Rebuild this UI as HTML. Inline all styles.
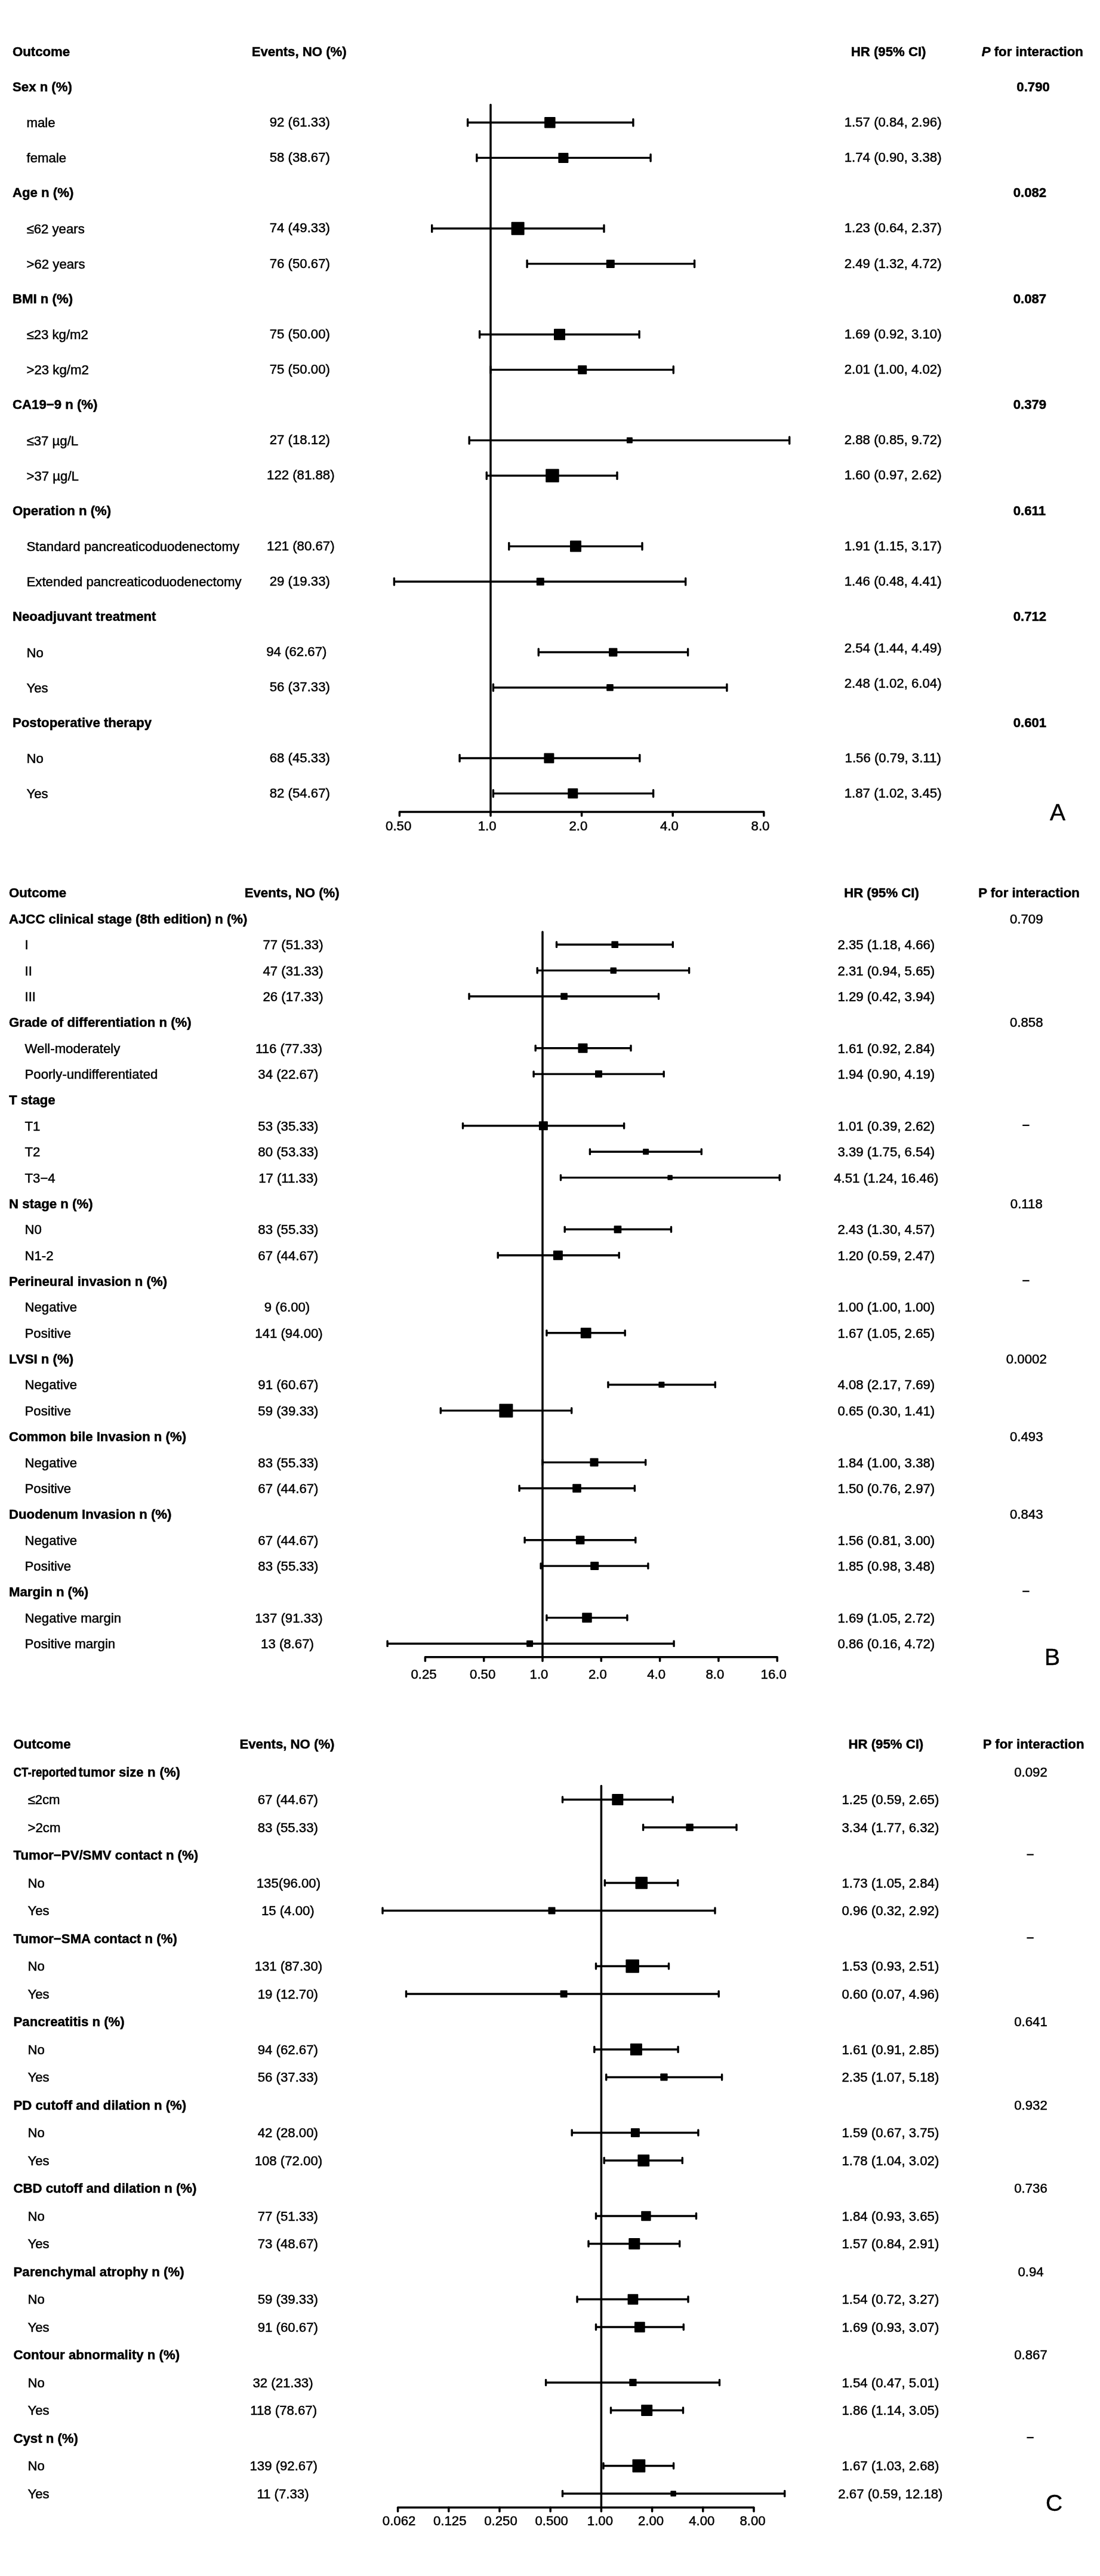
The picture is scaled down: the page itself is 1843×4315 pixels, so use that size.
<!DOCTYPE html>
<html><head><meta charset="utf-8"><title>Forest plot</title>
<style>
html,body{margin:0;padding:0;background:#fff;}
body{width:1843px;height:4315px;overflow:hidden;}
svg{display:block;}
text{font-family:"Liberation Sans",sans-serif;font-size:22.2px;fill:#000;stroke:#000;stroke-width:0.5px;}
svg{filter:grayscale(1);}
line{stroke:#000;}
</style></head><body>
<svg width="1843" height="4315" viewBox="0 0 1843 4315">
<rect width="1843" height="4315" fill="#fff"/>
<text x="21.0" y="93.6" font-weight="bold">Outcome</text>
<text x="501.2" y="93.6" text-anchor="middle" font-weight="bold">Events, NO (%)</text>
<text x="1488.6" y="93.6" text-anchor="middle" font-weight="bold">HR (95% CI)</text>
<text x="1729.8" y="93.6" text-anchor="middle" font-weight="bold"><tspan font-style="italic">P</tspan> for interaction</text>
<text x="21.0" y="152.8" font-weight="bold">Sex n (%)</text>
<text x="1703.3" y="152.8" font-weight="bold">0.790</text>
<text x="44.5" y="213.2">male</text>
<text x="502.3" y="211.9" text-anchor="middle">92 (61.33)</text>
<text x="1496.2" y="211.9" text-anchor="middle">1.57 (0.84, 2.96)</text>
<line x1="783.6" y1="205.3" x2="1060.9" y2="205.3" stroke-width="3.4"/>
<line x1="783.6" y1="199.7" x2="783.6" y2="210.9" stroke-width="3.4" stroke-linecap="round"/>
<line x1="1060.9" y1="199.7" x2="1060.9" y2="210.9" stroke-width="3.4" stroke-linecap="round"/>
<rect x="912.1" y="196.1" width="18.5" height="18.5" rx="1" fill="#000"/>
<text x="44.5" y="272.3">female</text>
<text x="502.3" y="271.0" text-anchor="middle">58 (38.67)</text>
<text x="1496.2" y="271.0" text-anchor="middle">1.74 (0.90, 3.38)</text>
<line x1="798.8" y1="264.4" x2="1090.1" y2="264.4" stroke-width="3.4"/>
<line x1="798.8" y1="258.8" x2="798.8" y2="270.1" stroke-width="3.4" stroke-linecap="round"/>
<line x1="1090.1" y1="258.8" x2="1090.1" y2="270.1" stroke-width="3.4" stroke-linecap="round"/>
<rect x="935.4" y="255.9" width="17.0" height="17.0" rx="1" fill="#000"/>
<text x="21.0" y="330.2" font-weight="bold">Age n (%)</text>
<text x="1697.7" y="330.2" font-weight="bold">0.082</text>
<text x="44.5" y="390.6">≤62 years</text>
<text x="502.3" y="389.3" text-anchor="middle">74 (49.33)</text>
<text x="1496.2" y="389.3" text-anchor="middle">1.23 (0.64, 2.37)</text>
<line x1="723.7" y1="382.8" x2="1012.0" y2="382.8" stroke-width="3.4"/>
<line x1="723.7" y1="377.1" x2="723.7" y2="388.4" stroke-width="3.4" stroke-linecap="round"/>
<line x1="1012.0" y1="377.1" x2="1012.0" y2="388.4" stroke-width="3.4" stroke-linecap="round"/>
<rect x="856.6" y="371.8" width="22.0" height="22.0" rx="1" fill="#000"/>
<text x="44.5" y="449.8">&gt;62 years</text>
<text x="502.3" y="448.5" text-anchor="middle">76 (50.67)</text>
<text x="1496.2" y="448.5" text-anchor="middle">2.49 (1.32, 4.72)</text>
<line x1="883.1" y1="441.9" x2="1163.6" y2="441.9" stroke-width="3.4"/>
<line x1="883.1" y1="436.3" x2="883.1" y2="447.5" stroke-width="3.4" stroke-linecap="round"/>
<line x1="1163.6" y1="436.3" x2="1163.6" y2="447.5" stroke-width="3.4" stroke-linecap="round"/>
<rect x="1015.8" y="434.9" width="14.0" height="14.0" rx="1" fill="#000"/>
<text x="21.0" y="507.6" font-weight="bold">BMI n (%)</text>
<text x="1697.7" y="507.6" font-weight="bold">0.087</text>
<text x="44.5" y="568.1">≤23 kg/m2</text>
<text x="502.3" y="566.8" text-anchor="middle">75 (50.00)</text>
<text x="1496.2" y="566.8" text-anchor="middle">1.69 (0.92, 3.10)</text>
<line x1="803.6" y1="560.2" x2="1071.1" y2="560.2" stroke-width="3.4"/>
<line x1="803.6" y1="554.6" x2="803.6" y2="565.8" stroke-width="3.4" stroke-linecap="round"/>
<line x1="1071.1" y1="554.6" x2="1071.1" y2="565.8" stroke-width="3.4" stroke-linecap="round"/>
<rect x="928.0" y="550.7" width="19.0" height="19.0" rx="1" fill="#000"/>
<text x="44.5" y="627.2">&gt;23 kg/m2</text>
<text x="502.3" y="626.0" text-anchor="middle">75 (50.00)</text>
<text x="1496.2" y="626.0" text-anchor="middle">2.01 (1.00, 4.02)</text>
<line x1="822.0" y1="619.4" x2="1128.3" y2="619.4" stroke-width="3.4"/>
<line x1="822.0" y1="613.8" x2="822.0" y2="625.0" stroke-width="3.4" stroke-linecap="round"/>
<line x1="1128.3" y1="613.8" x2="1128.3" y2="625.0" stroke-width="3.4" stroke-linecap="round"/>
<rect x="968.2" y="611.9" width="15.0" height="15.0" rx="1" fill="#000"/>
<text x="21.0" y="685.1" font-weight="bold">CA19−9 n (%)</text>
<text x="1697.7" y="685.1" font-weight="bold">0.379</text>
<text x="44.5" y="745.5">≤37 µg/L</text>
<text x="502.3" y="744.2" text-anchor="middle">27 (18.12)</text>
<text x="1496.2" y="744.2" text-anchor="middle">2.88 (0.85, 9.72)</text>
<line x1="786.2" y1="737.6" x2="1322.7" y2="737.6" stroke-width="3.4"/>
<line x1="786.2" y1="732.0" x2="786.2" y2="743.2" stroke-width="3.4" stroke-linecap="round"/>
<line x1="1322.7" y1="732.0" x2="1322.7" y2="743.2" stroke-width="3.4" stroke-linecap="round"/>
<rect x="1049.9" y="732.6" width="10.0" height="10.0" rx="1" fill="#000"/>
<text x="44.5" y="804.7">&gt;37 µg/L</text>
<text x="503.8" y="803.4" text-anchor="middle">122 (81.88)</text>
<text x="1496.2" y="803.4" text-anchor="middle">1.60 (0.97, 2.62)</text>
<line x1="815.3" y1="796.8" x2="1034.0" y2="796.8" stroke-width="3.4"/>
<line x1="815.3" y1="791.2" x2="815.3" y2="802.4" stroke-width="3.4" stroke-linecap="round"/>
<line x1="1034.0" y1="791.2" x2="1034.0" y2="802.4" stroke-width="3.4" stroke-linecap="round"/>
<rect x="914.2" y="785.5" width="22.5" height="22.5" rx="1" fill="#000"/>
<text x="21.0" y="862.5" font-weight="bold">Operation n (%)</text>
<text x="1697.7" y="862.5" font-weight="bold">0.611</text>
<text x="44.5" y="923.0">Standard pancreaticoduodenectomy</text>
<text x="503.8" y="921.7" text-anchor="middle">121 (80.67)</text>
<text x="1496.2" y="921.7" text-anchor="middle">1.91 (1.15, 3.17)</text>
<line x1="852.8" y1="915.1" x2="1076.0" y2="915.1" stroke-width="3.4"/>
<line x1="852.8" y1="909.5" x2="852.8" y2="920.7" stroke-width="3.4" stroke-linecap="round"/>
<line x1="1076.0" y1="909.5" x2="1076.0" y2="920.7" stroke-width="3.4" stroke-linecap="round"/>
<rect x="955.0" y="905.6" width="19.0" height="19.0" rx="1" fill="#000"/>
<text x="44.5" y="982.1">Extended pancreaticoduodenectomy</text>
<text x="502.3" y="980.9" text-anchor="middle">29 (19.33)</text>
<text x="1496.2" y="980.9" text-anchor="middle">1.46 (0.48, 4.41)</text>
<line x1="660.4" y1="974.2" x2="1148.7" y2="974.2" stroke-width="3.4"/>
<line x1="660.4" y1="968.6" x2="660.4" y2="979.9" stroke-width="3.4" stroke-linecap="round"/>
<line x1="1148.7" y1="968.6" x2="1148.7" y2="979.9" stroke-width="3.4" stroke-linecap="round"/>
<rect x="898.8" y="967.8" width="13.0" height="13.0" rx="1" fill="#000"/>
<text x="21.0" y="1040.0" font-weight="bold">Neoadjuvant treatment</text>
<text x="1697.7" y="1040.0" font-weight="bold">0.712</text>
<text x="44.5" y="1100.5">No</text>
<text x="496.8" y="1099.2" text-anchor="middle">94 (62.67)</text>
<text x="1496.2" y="1092.7" text-anchor="middle">2.54 (1.44, 4.49)</text>
<line x1="902.3" y1="1092.5" x2="1152.6" y2="1092.5" stroke-width="3.4"/>
<line x1="902.3" y1="1087.0" x2="902.3" y2="1098.1" stroke-width="3.4" stroke-linecap="round"/>
<line x1="1152.6" y1="1087.0" x2="1152.6" y2="1098.1" stroke-width="3.4" stroke-linecap="round"/>
<rect x="1020.1" y="1085.4" width="14.3" height="14.3" rx="1" fill="#000"/>
<text x="44.5" y="1159.6">Yes</text>
<text x="502.3" y="1158.3" text-anchor="middle">56 (37.33)</text>
<text x="1496.2" y="1151.8" text-anchor="middle">2.48 (1.02, 6.04)</text>
<line x1="826.4" y1="1151.7" x2="1217.9" y2="1151.7" stroke-width="3.4"/>
<line x1="826.4" y1="1146.1" x2="826.4" y2="1157.3" stroke-width="3.4" stroke-linecap="round"/>
<line x1="1217.9" y1="1146.1" x2="1217.9" y2="1157.3" stroke-width="3.4" stroke-linecap="round"/>
<rect x="1016.2" y="1145.9" width="11.6" height="11.6" rx="1" fill="#000"/>
<text x="21.0" y="1217.5" font-weight="bold">Postoperative therapy</text>
<text x="1697.7" y="1217.5" font-weight="bold">0.601</text>
<text x="44.5" y="1277.9">No</text>
<text x="502.3" y="1276.6" text-anchor="middle">68 (45.33)</text>
<text x="1496.2" y="1276.6" text-anchor="middle">1.56 (0.79, 3.11)</text>
<line x1="770.1" y1="1270.0" x2="1071.8" y2="1270.0" stroke-width="3.4"/>
<line x1="770.1" y1="1264.4" x2="770.1" y2="1275.6" stroke-width="3.4" stroke-linecap="round"/>
<line x1="1071.8" y1="1264.4" x2="1071.8" y2="1275.6" stroke-width="3.4" stroke-linecap="round"/>
<rect x="911.4" y="1261.5" width="17.0" height="17.0" rx="1" fill="#000"/>
<text x="44.5" y="1337.0">Yes</text>
<text x="502.3" y="1335.8" text-anchor="middle">82 (54.67)</text>
<text x="1496.2" y="1335.8" text-anchor="middle">1.87 (1.02, 3.45)</text>
<line x1="826.4" y1="1329.1" x2="1094.6" y2="1329.1" stroke-width="3.4"/>
<line x1="826.4" y1="1323.5" x2="826.4" y2="1334.7" stroke-width="3.4" stroke-linecap="round"/>
<line x1="1094.6" y1="1323.5" x2="1094.6" y2="1334.7" stroke-width="3.4" stroke-linecap="round"/>
<rect x="951.3" y="1320.6" width="17.0" height="17.0" rx="1" fill="#000"/>
<line x1="822.0" y1="175.6" x2="822.0" y2="1360.0" stroke-width="3.5" stroke-linecap="round"/>
<line x1="669.4" y1="1360.0" x2="1279.8" y2="1360.0" stroke-width="3.5"/>
<line x1="669.4" y1="1360.0" x2="669.4" y2="1366.5" stroke-width="3.5" stroke-linecap="round"/>
<text x="667.7" y="1390.6" text-anchor="middle">0.50</text>
<line x1="822.0" y1="1360.0" x2="822.0" y2="1366.5" stroke-width="3.5" stroke-linecap="round"/>
<text x="816.2" y="1390.6" text-anchor="middle">1.0</text>
<line x1="974.6" y1="1360.0" x2="974.6" y2="1366.5" stroke-width="3.5" stroke-linecap="round"/>
<text x="968.8" y="1390.6" text-anchor="middle">2.0</text>
<line x1="1127.2" y1="1360.0" x2="1127.2" y2="1366.5" stroke-width="3.5" stroke-linecap="round"/>
<text x="1121.4" y="1390.6" text-anchor="middle">4.0</text>
<line x1="1279.8" y1="1360.0" x2="1279.8" y2="1366.5" stroke-width="3.5" stroke-linecap="round"/>
<text x="1274.0" y="1390.6" text-anchor="middle">8.0</text>
<text x="1759.0" y="1374.0" style="font-size:39px">A</text>
<text x="15.0" y="1503.4" font-weight="bold">Outcome</text>
<text x="489.2" y="1503.4" text-anchor="middle" font-weight="bold">Events, NO (%)</text>
<text x="1477.0" y="1503.4" text-anchor="middle" font-weight="bold">HR (95% CI)</text>
<text x="1724.0" y="1503.4" text-anchor="middle" font-weight="bold">P for interaction</text>
<text x="15.0" y="1546.8" font-weight="bold">AJCC clinical stage (8th edition) n (%)</text>
<text x="1719.8" y="1546.8" text-anchor="middle">0.709</text>
<text x="41.5" y="1590.1">I</text>
<text x="491.0" y="1590.1" text-anchor="middle">77 (51.33)</text>
<text x="1484.8" y="1590.1" text-anchor="middle">2.35 (1.18, 4.66)</text>
<line x1="932.5" y1="1582.2" x2="1127.3" y2="1582.2" stroke-width="3.4"/>
<line x1="932.5" y1="1578.0" x2="932.5" y2="1586.4" stroke-width="3.4" stroke-linecap="round"/>
<line x1="1127.3" y1="1578.0" x2="1127.3" y2="1586.4" stroke-width="3.4" stroke-linecap="round"/>
<rect x="1024.4" y="1576.4" width="11.6" height="11.6" rx="1" fill="#000"/>
<text x="41.5" y="1633.5">II</text>
<text x="491.0" y="1633.5" text-anchor="middle">47 (31.33)</text>
<text x="1484.8" y="1633.5" text-anchor="middle">2.31 (0.94, 5.65)</text>
<line x1="900.2" y1="1625.6" x2="1154.6" y2="1625.6" stroke-width="3.4"/>
<line x1="900.2" y1="1621.4" x2="900.2" y2="1629.8" stroke-width="3.4" stroke-linecap="round"/>
<line x1="1154.6" y1="1621.4" x2="1154.6" y2="1629.8" stroke-width="3.4" stroke-linecap="round"/>
<rect x="1022.5" y="1620.4" width="10.5" height="10.5" rx="1" fill="#000"/>
<text x="41.5" y="1676.9">III</text>
<text x="491.0" y="1676.9" text-anchor="middle">26 (17.33)</text>
<text x="1484.8" y="1676.9" text-anchor="middle">1.29 (0.42, 3.94)</text>
<line x1="786.0" y1="1669.0" x2="1103.5" y2="1669.0" stroke-width="3.4"/>
<line x1="786.0" y1="1664.8" x2="786.0" y2="1673.2" stroke-width="3.4" stroke-linecap="round"/>
<line x1="1103.5" y1="1664.8" x2="1103.5" y2="1673.2" stroke-width="3.4" stroke-linecap="round"/>
<rect x="939.3" y="1663.2" width="11.6" height="11.6" rx="1" fill="#000"/>
<text x="15.0" y="1720.2" font-weight="bold">Grade of differentiation n (%)</text>
<text x="1719.8" y="1720.2" text-anchor="middle">0.858</text>
<text x="41.5" y="1763.6">Well-moderately</text>
<text x="484.0" y="1763.6" text-anchor="middle">116 (77.33)</text>
<text x="1484.8" y="1763.6" text-anchor="middle">1.61 (0.92, 2.84)</text>
<line x1="897.2" y1="1755.7" x2="1057.0" y2="1755.7" stroke-width="3.4"/>
<line x1="897.2" y1="1751.5" x2="897.2" y2="1759.9" stroke-width="3.4" stroke-linecap="round"/>
<line x1="1057.0" y1="1751.5" x2="1057.0" y2="1759.9" stroke-width="3.4" stroke-linecap="round"/>
<rect x="968.5" y="1747.7" width="16.0" height="16.0" rx="1" fill="#000"/>
<text x="41.5" y="1807.0">Poorly-undifferentiated</text>
<text x="482.9" y="1807.0" text-anchor="middle">34 (22.67)</text>
<text x="1484.8" y="1807.0" text-anchor="middle">1.94 (0.90, 4.19)</text>
<line x1="894.1" y1="1799.1" x2="1112.2" y2="1799.1" stroke-width="3.4"/>
<line x1="894.1" y1="1794.9" x2="894.1" y2="1803.3" stroke-width="3.4" stroke-linecap="round"/>
<line x1="1112.2" y1="1794.9" x2="1112.2" y2="1803.3" stroke-width="3.4" stroke-linecap="round"/>
<rect x="997.0" y="1793.1" width="12.0" height="12.0" rx="1" fill="#000"/>
<text x="15.0" y="1850.4" font-weight="bold">T stage</text>
<text x="41.5" y="1893.7">T1</text>
<text x="482.9" y="1893.7" text-anchor="middle">53 (35.33)</text>
<text x="1484.8" y="1893.7" text-anchor="middle">1.01 (0.39, 2.62)</text>
<rect x="1713.2" y="1883.9" width="11.4" height="2.2" fill="#000"/>
<line x1="775.5" y1="1885.8" x2="1045.6" y2="1885.8" stroke-width="3.4"/>
<line x1="775.5" y1="1881.6" x2="775.5" y2="1890.0" stroke-width="3.4" stroke-linecap="round"/>
<line x1="1045.6" y1="1881.6" x2="1045.6" y2="1890.0" stroke-width="3.4" stroke-linecap="round"/>
<rect x="902.9" y="1878.3" width="15.0" height="15.0" rx="1" fill="#000"/>
<text x="41.5" y="1937.1">T2</text>
<text x="482.9" y="1937.1" text-anchor="middle">80 (53.33)</text>
<text x="1484.8" y="1937.1" text-anchor="middle">3.39 (1.75, 6.54)</text>
<line x1="988.4" y1="1929.2" x2="1175.3" y2="1929.2" stroke-width="3.4"/>
<line x1="988.4" y1="1925.0" x2="988.4" y2="1933.4" stroke-width="3.4" stroke-linecap="round"/>
<line x1="1175.3" y1="1925.0" x2="1175.3" y2="1933.4" stroke-width="3.4" stroke-linecap="round"/>
<rect x="1077.1" y="1924.2" width="10.0" height="10.0" rx="1" fill="#000"/>
<text x="41.5" y="1980.5">T3−4</text>
<text x="482.9" y="1980.5" text-anchor="middle">17 (11.33)</text>
<text x="1484.8" y="1980.5" text-anchor="middle">4.51 (1.24, 16.46)</text>
<line x1="939.5" y1="1972.6" x2="1306.2" y2="1972.6" stroke-width="3.4"/>
<line x1="939.5" y1="1968.4" x2="939.5" y2="1976.8" stroke-width="3.4" stroke-linecap="round"/>
<line x1="1306.2" y1="1968.4" x2="1306.2" y2="1976.8" stroke-width="3.4" stroke-linecap="round"/>
<rect x="1118.4" y="1968.3" width="8.5" height="8.5" rx="1" fill="#000"/>
<text x="15.0" y="2023.8" font-weight="bold">N stage n (%)</text>
<text x="1719.8" y="2023.8" text-anchor="middle">0.118</text>
<text x="41.5" y="2067.2">N0</text>
<text x="482.9" y="2067.2" text-anchor="middle">83 (55.33)</text>
<text x="1484.8" y="2067.2" text-anchor="middle">2.43 (1.30, 4.57)</text>
<line x1="946.2" y1="2059.3" x2="1124.5" y2="2059.3" stroke-width="3.4"/>
<line x1="946.2" y1="2055.1" x2="946.2" y2="2063.5" stroke-width="3.4" stroke-linecap="round"/>
<line x1="1124.5" y1="2055.1" x2="1124.5" y2="2063.5" stroke-width="3.4" stroke-linecap="round"/>
<rect x="1028.6" y="2053.0" width="12.7" height="12.7" rx="1" fill="#000"/>
<text x="41.5" y="2110.6">N1-2</text>
<text x="482.9" y="2110.6" text-anchor="middle">67 (44.67)</text>
<text x="1484.8" y="2110.6" text-anchor="middle">1.20 (0.59, 2.47)</text>
<line x1="834.2" y1="2102.7" x2="1037.2" y2="2102.7" stroke-width="3.4"/>
<line x1="834.2" y1="2098.5" x2="834.2" y2="2106.9" stroke-width="3.4" stroke-linecap="round"/>
<line x1="1037.2" y1="2098.5" x2="1037.2" y2="2106.9" stroke-width="3.4" stroke-linecap="round"/>
<rect x="926.9" y="2094.7" width="16.0" height="16.0" rx="1" fill="#000"/>
<text x="15.0" y="2154.0" font-weight="bold">Perineural invasion n (%)</text>
<rect x="1713.2" y="2144.2" width="11.4" height="2.2" fill="#000"/>
<text x="41.5" y="2197.3">Negative</text>
<text x="481.0" y="2197.3" text-anchor="middle">9 (6.00)</text>
<text x="1484.8" y="2197.3" text-anchor="middle">1.00 (1.00, 1.00)</text>
<text x="41.5" y="2240.7">Positive</text>
<text x="484.0" y="2240.7" text-anchor="middle">141 (94.00)</text>
<text x="1484.8" y="2240.7" text-anchor="middle">1.67 (1.05, 2.65)</text>
<line x1="915.9" y1="2232.8" x2="1047.2" y2="2232.8" stroke-width="3.4"/>
<line x1="915.9" y1="2228.6" x2="915.9" y2="2237.0" stroke-width="3.4" stroke-linecap="round"/>
<line x1="1047.2" y1="2228.6" x2="1047.2" y2="2237.0" stroke-width="3.4" stroke-linecap="round"/>
<rect x="972.8" y="2223.9" width="17.8" height="17.8" rx="1" fill="#000"/>
<text x="15.0" y="2284.1" font-weight="bold">LVSI n (%)</text>
<text x="1719.8" y="2284.1" text-anchor="middle">0.0002</text>
<text x="41.5" y="2327.4">Negative</text>
<text x="482.9" y="2327.4" text-anchor="middle">91 (60.67)</text>
<text x="1484.8" y="2327.4" text-anchor="middle">4.08 (2.17, 7.69)</text>
<line x1="1018.9" y1="2319.5" x2="1198.3" y2="2319.5" stroke-width="3.4"/>
<line x1="1018.9" y1="2315.3" x2="1018.9" y2="2323.7" stroke-width="3.4" stroke-linecap="round"/>
<line x1="1198.3" y1="2315.3" x2="1198.3" y2="2323.7" stroke-width="3.4" stroke-linecap="round"/>
<rect x="1103.4" y="2314.5" width="10.0" height="10.0" rx="1" fill="#000"/>
<text x="41.5" y="2370.8">Positive</text>
<text x="482.9" y="2370.8" text-anchor="middle">59 (39.33)</text>
<text x="1484.8" y="2370.8" text-anchor="middle">0.65 (0.30, 1.41)</text>
<line x1="738.3" y1="2362.9" x2="957.7" y2="2362.9" stroke-width="3.4"/>
<line x1="738.3" y1="2358.7" x2="738.3" y2="2367.1" stroke-width="3.4" stroke-linecap="round"/>
<line x1="957.7" y1="2358.7" x2="957.7" y2="2367.1" stroke-width="3.4" stroke-linecap="round"/>
<rect x="836.4" y="2351.4" width="23.0" height="23.0" rx="1" fill="#000"/>
<text x="15.0" y="2414.2" font-weight="bold">Common bile Invasion n (%)</text>
<text x="1719.8" y="2414.2" text-anchor="middle">0.493</text>
<text x="41.5" y="2457.5">Negative</text>
<text x="482.9" y="2457.5" text-anchor="middle">83 (55.33)</text>
<text x="1484.8" y="2457.5" text-anchor="middle">1.84 (1.00, 3.38)</text>
<line x1="909.0" y1="2449.6" x2="1081.7" y2="2449.6" stroke-width="3.4"/>
<line x1="909.0" y1="2445.4" x2="909.0" y2="2453.8" stroke-width="3.4" stroke-linecap="round"/>
<line x1="1081.7" y1="2445.4" x2="1081.7" y2="2453.8" stroke-width="3.4" stroke-linecap="round"/>
<rect x="988.5" y="2442.6" width="14.0" height="14.0" rx="1" fill="#000"/>
<text x="41.5" y="2500.9">Positive</text>
<text x="482.9" y="2500.9" text-anchor="middle">67 (44.67)</text>
<text x="1484.8" y="2500.9" text-anchor="middle">1.50 (0.76, 2.97)</text>
<line x1="870.1" y1="2493.0" x2="1063.4" y2="2493.0" stroke-width="3.4"/>
<line x1="870.1" y1="2488.8" x2="870.1" y2="2497.2" stroke-width="3.4" stroke-linecap="round"/>
<line x1="1063.4" y1="2488.8" x2="1063.4" y2="2497.2" stroke-width="3.4" stroke-linecap="round"/>
<rect x="959.2" y="2485.7" width="14.6" height="14.6" rx="1" fill="#000"/>
<text x="15.0" y="2544.3" font-weight="bold">Duodenum Invasion n (%)</text>
<text x="1719.8" y="2544.3" text-anchor="middle">0.843</text>
<text x="41.5" y="2587.7">Negative</text>
<text x="482.9" y="2587.7" text-anchor="middle">67 (44.67)</text>
<text x="1484.8" y="2587.7" text-anchor="middle">1.56 (0.81, 3.00)</text>
<line x1="879.1" y1="2579.8" x2="1064.8" y2="2579.8" stroke-width="3.4"/>
<line x1="879.1" y1="2575.6" x2="879.1" y2="2583.9" stroke-width="3.4" stroke-linecap="round"/>
<line x1="1064.8" y1="2575.6" x2="1064.8" y2="2583.9" stroke-width="3.4" stroke-linecap="round"/>
<rect x="964.8" y="2572.4" width="14.6" height="14.6" rx="1" fill="#000"/>
<text x="41.5" y="2631.0">Positive</text>
<text x="482.9" y="2631.0" text-anchor="middle">83 (55.33)</text>
<text x="1484.8" y="2631.0" text-anchor="middle">1.85 (0.98, 3.48)</text>
<line x1="906.1" y1="2623.1" x2="1085.9" y2="2623.1" stroke-width="3.4"/>
<line x1="906.1" y1="2618.9" x2="906.1" y2="2627.3" stroke-width="3.4" stroke-linecap="round"/>
<line x1="1085.9" y1="2618.9" x2="1085.9" y2="2627.3" stroke-width="3.4" stroke-linecap="round"/>
<rect x="989.2" y="2616.1" width="14.0" height="14.0" rx="1" fill="#000"/>
<text x="15.0" y="2674.4" font-weight="bold">Margin n (%)</text>
<rect x="1713.2" y="2664.6" width="11.4" height="2.2" fill="#000"/>
<text x="41.5" y="2717.8">Negative margin</text>
<text x="484.0" y="2717.8" text-anchor="middle">137 (91.33)</text>
<text x="1484.8" y="2717.8" text-anchor="middle">1.69 (1.05, 2.72)</text>
<line x1="915.9" y1="2709.9" x2="1050.9" y2="2709.9" stroke-width="3.4"/>
<line x1="915.9" y1="2705.7" x2="915.9" y2="2714.1" stroke-width="3.4" stroke-linecap="round"/>
<line x1="1050.9" y1="2705.7" x2="1050.9" y2="2714.1" stroke-width="3.4" stroke-linecap="round"/>
<rect x="975.2" y="2701.6" width="16.5" height="16.5" rx="1" fill="#000"/>
<text x="41.5" y="2761.1">Positive margin</text>
<text x="481.5" y="2761.1" text-anchor="middle">13 (8.67)</text>
<text x="1484.8" y="2761.1" text-anchor="middle">0.86 (0.16, 4.72)</text>
<line x1="649.1" y1="2753.2" x2="1129.1" y2="2753.2" stroke-width="3.4"/>
<line x1="649.1" y1="2749.0" x2="649.1" y2="2757.4" stroke-width="3.4" stroke-linecap="round"/>
<line x1="1129.1" y1="2749.0" x2="1129.1" y2="2757.4" stroke-width="3.4" stroke-linecap="round"/>
<rect x="882.1" y="2747.7" width="11.0" height="11.0" rx="1" fill="#000"/>
<line x1="909.0" y1="1561.0" x2="909.0" y2="2775.8" stroke-width="3.5" stroke-linecap="round"/>
<line x1="712.4" y1="2775.8" x2="1302.2" y2="2775.8" stroke-width="3.5"/>
<line x1="712.4" y1="2775.8" x2="712.4" y2="2782.3" stroke-width="3.5" stroke-linecap="round"/>
<text x="710.1" y="2811.6" text-anchor="middle">0.25</text>
<line x1="810.7" y1="2775.8" x2="810.7" y2="2782.3" stroke-width="3.5" stroke-linecap="round"/>
<text x="808.7" y="2811.6" text-anchor="middle">0.50</text>
<line x1="909.0" y1="2775.8" x2="909.0" y2="2782.3" stroke-width="3.5" stroke-linecap="round"/>
<text x="903.0" y="2811.6" text-anchor="middle">1.0</text>
<line x1="1007.3" y1="2775.8" x2="1007.3" y2="2782.3" stroke-width="3.5" stroke-linecap="round"/>
<text x="1001.3" y="2811.6" text-anchor="middle">2.0</text>
<line x1="1105.6" y1="2775.8" x2="1105.6" y2="2782.3" stroke-width="3.5" stroke-linecap="round"/>
<text x="1099.6" y="2811.6" text-anchor="middle">4.0</text>
<line x1="1203.9" y1="2775.8" x2="1203.9" y2="2782.3" stroke-width="3.5" stroke-linecap="round"/>
<text x="1197.9" y="2811.6" text-anchor="middle">8.0</text>
<line x1="1302.2" y1="2775.8" x2="1302.2" y2="2782.3" stroke-width="3.5" stroke-linecap="round"/>
<text x="1296.2" y="2811.6" text-anchor="middle">16.0</text>
<text x="1750.0" y="2788.5" style="font-size:39px">B</text>
<text x="22.5" y="2929.4" font-weight="bold">Outcome</text>
<text x="481.0" y="2929.4" text-anchor="middle" font-weight="bold">Events, NO (%)</text>
<text x="1484.4" y="2929.4" text-anchor="middle" font-weight="bold">HR (95% CI)</text>
<text x="1731.6" y="2929.4" text-anchor="middle" font-weight="bold">P for interaction</text>
<text x="22.5" y="2975.9" font-weight="bold" textLength="106" lengthAdjust="spacingAndGlyphs">CT-reported</text>
<text x="131.5" y="2975.9" font-weight="bold" textLength="61.5" lengthAdjust="spacingAndGlyphs">tumor</text>
<text x="199.0" y="2975.9" font-weight="bold" textLength="41.5" lengthAdjust="spacingAndGlyphs">size</text>
<text x="247.0" y="2975.9" font-weight="bold">n</text>
<text x="267.5" y="2975.9" font-weight="bold">(%)</text>
<text x="1727.0" y="2975.9" text-anchor="middle">0.092</text>
<text x="46.5" y="3022.4">≤2cm</text>
<text x="482.3" y="3022.4" text-anchor="middle">67 (44.67)</text>
<text x="1491.9" y="3022.4" text-anchor="middle">1.25 (0.59, 2.65)</text>
<line x1="942.5" y1="3014.5" x2="1127.2" y2="3014.5" stroke-width="3.4"/>
<line x1="942.5" y1="3009.9" x2="942.5" y2="3019.1" stroke-width="3.4" stroke-linecap="round"/>
<line x1="1127.2" y1="3009.9" x2="1127.2" y2="3019.1" stroke-width="3.4" stroke-linecap="round"/>
<rect x="1025.3" y="3005.0" width="19.0" height="19.0" rx="1" fill="#000"/>
<text x="46.5" y="3068.9">&gt;2cm</text>
<text x="482.3" y="3068.9" text-anchor="middle">83 (55.33)</text>
<text x="1491.9" y="3068.9" text-anchor="middle">3.34 (1.77, 6.32)</text>
<line x1="1077.6" y1="3061.0" x2="1234.0" y2="3061.0" stroke-width="3.4"/>
<line x1="1077.6" y1="3056.4" x2="1077.6" y2="3065.6" stroke-width="3.4" stroke-linecap="round"/>
<line x1="1234.0" y1="3056.4" x2="1234.0" y2="3065.6" stroke-width="3.4" stroke-linecap="round"/>
<rect x="1149.4" y="3054.8" width="12.4" height="12.4" rx="1" fill="#000"/>
<text x="22.5" y="3115.4" font-weight="bold">Tumor−PV/SMV contact n (%)</text>
<rect x="1720.4" y="3105.6" width="11.4" height="2.2" fill="#000"/>
<text x="46.5" y="3161.9">No</text>
<text x="483.4" y="3161.9" text-anchor="middle">135(96.00)</text>
<text x="1491.9" y="3161.9" text-anchor="middle">1.73 (1.05, 2.84)</text>
<line x1="1013.4" y1="3154.0" x2="1135.7" y2="3154.0" stroke-width="3.4"/>
<line x1="1013.4" y1="3149.4" x2="1013.4" y2="3158.6" stroke-width="3.4" stroke-linecap="round"/>
<line x1="1135.7" y1="3149.4" x2="1135.7" y2="3158.6" stroke-width="3.4" stroke-linecap="round"/>
<rect x="1064.5" y="3143.8" width="20.5" height="20.5" rx="1" fill="#000"/>
<text x="46.5" y="3208.4">Yes</text>
<text x="482.3" y="3208.4" text-anchor="middle">15 (4.00)</text>
<text x="1491.9" y="3208.4" text-anchor="middle">0.96 (0.32, 2.92)</text>
<line x1="641.0" y1="3200.5" x2="1198.0" y2="3200.5" stroke-width="3.4"/>
<line x1="641.0" y1="3195.9" x2="641.0" y2="3205.1" stroke-width="3.4" stroke-linecap="round"/>
<line x1="1198.0" y1="3195.9" x2="1198.0" y2="3205.1" stroke-width="3.4" stroke-linecap="round"/>
<rect x="918.5" y="3194.5" width="12.0" height="12.0" rx="1" fill="#000"/>
<text x="22.5" y="3254.9" font-weight="bold">Tumor−SMA contact n (%)</text>
<rect x="1720.4" y="3245.1" width="11.4" height="2.2" fill="#000"/>
<text x="46.5" y="3301.4">No</text>
<text x="483.4" y="3301.4" text-anchor="middle">131 (87.30)</text>
<text x="1491.9" y="3301.4" text-anchor="middle">1.53 (0.93, 2.51)</text>
<line x1="998.5" y1="3293.5" x2="1120.5" y2="3293.5" stroke-width="3.4"/>
<line x1="998.5" y1="3288.9" x2="998.5" y2="3298.1" stroke-width="3.4" stroke-linecap="round"/>
<line x1="1120.5" y1="3288.9" x2="1120.5" y2="3298.1" stroke-width="3.4" stroke-linecap="round"/>
<rect x="1048.4" y="3282.2" width="22.5" height="22.5" rx="1" fill="#000"/>
<text x="46.5" y="3347.9">Yes</text>
<text x="482.3" y="3347.9" text-anchor="middle">19 (12.70)</text>
<text x="1491.9" y="3347.9" text-anchor="middle">0.60 (0.07, 4.96)</text>
<line x1="680.5" y1="3340.0" x2="1204.2" y2="3340.0" stroke-width="3.4"/>
<line x1="680.5" y1="3335.4" x2="680.5" y2="3344.6" stroke-width="3.4" stroke-linecap="round"/>
<line x1="1204.2" y1="3335.4" x2="1204.2" y2="3344.6" stroke-width="3.4" stroke-linecap="round"/>
<rect x="938.6" y="3334.0" width="12.0" height="12.0" rx="1" fill="#000"/>
<text x="22.5" y="3394.4" font-weight="bold">Pancreatitis n (%)</text>
<text x="1727.0" y="3394.4" text-anchor="middle">0.641</text>
<text x="46.5" y="3440.9">No</text>
<text x="482.3" y="3440.9" text-anchor="middle">94 (62.67)</text>
<text x="1491.9" y="3440.9" text-anchor="middle">1.61 (0.91, 2.85)</text>
<line x1="995.8" y1="3433.0" x2="1136.1" y2="3433.0" stroke-width="3.4"/>
<line x1="995.8" y1="3428.4" x2="995.8" y2="3437.6" stroke-width="3.4" stroke-linecap="round"/>
<line x1="1136.1" y1="3428.4" x2="1136.1" y2="3437.6" stroke-width="3.4" stroke-linecap="round"/>
<rect x="1055.9" y="3423.0" width="20.0" height="20.0" rx="1" fill="#000"/>
<text x="46.5" y="3487.4">Yes</text>
<text x="482.3" y="3487.4" text-anchor="middle">56 (37.33)</text>
<text x="1491.9" y="3487.4" text-anchor="middle">2.35 (1.07, 5.18)</text>
<line x1="1015.7" y1="3479.5" x2="1209.6" y2="3479.5" stroke-width="3.4"/>
<line x1="1015.7" y1="3474.9" x2="1015.7" y2="3484.1" stroke-width="3.4" stroke-linecap="round"/>
<line x1="1209.6" y1="3474.9" x2="1209.6" y2="3484.1" stroke-width="3.4" stroke-linecap="round"/>
<rect x="1106.3" y="3473.3" width="12.3" height="12.3" rx="1" fill="#000"/>
<text x="22.5" y="3533.9" font-weight="bold">PD cutoff and dilation n (%)</text>
<text x="1727.0" y="3533.9" text-anchor="middle">0.932</text>
<text x="46.5" y="3580.4">No</text>
<text x="482.3" y="3580.4" text-anchor="middle">42 (28.00)</text>
<text x="1491.9" y="3580.4" text-anchor="middle">1.59 (0.67, 3.75)</text>
<line x1="958.2" y1="3572.5" x2="1169.9" y2="3572.5" stroke-width="3.4"/>
<line x1="958.2" y1="3567.9" x2="958.2" y2="3577.1" stroke-width="3.4" stroke-linecap="round"/>
<line x1="1169.9" y1="3567.9" x2="1169.9" y2="3577.1" stroke-width="3.4" stroke-linecap="round"/>
<rect x="1056.9" y="3565.0" width="15.0" height="15.0" rx="1" fill="#000"/>
<text x="46.5" y="3626.9">Yes</text>
<text x="483.4" y="3626.9" text-anchor="middle">108 (72.00)</text>
<text x="1491.9" y="3626.9" text-anchor="middle">1.78 (1.04, 3.02)</text>
<line x1="1012.2" y1="3619.0" x2="1143.3" y2="3619.0" stroke-width="3.4"/>
<line x1="1012.2" y1="3614.4" x2="1012.2" y2="3623.6" stroke-width="3.4" stroke-linecap="round"/>
<line x1="1143.3" y1="3614.4" x2="1143.3" y2="3623.6" stroke-width="3.4" stroke-linecap="round"/>
<rect x="1068.4" y="3609.1" width="19.8" height="19.8" rx="1" fill="#000"/>
<text x="22.5" y="3673.4" font-weight="bold">CBD cutoff and dilation n (%)</text>
<text x="1727.0" y="3673.4" text-anchor="middle">0.736</text>
<text x="46.5" y="3719.9">No</text>
<text x="482.3" y="3719.9" text-anchor="middle">77 (51.33)</text>
<text x="1491.9" y="3719.9" text-anchor="middle">1.84 (0.93, 3.65)</text>
<line x1="998.5" y1="3712.0" x2="1166.5" y2="3712.0" stroke-width="3.4"/>
<line x1="998.5" y1="3707.4" x2="998.5" y2="3716.6" stroke-width="3.4" stroke-linecap="round"/>
<line x1="1166.5" y1="3707.4" x2="1166.5" y2="3716.6" stroke-width="3.4" stroke-linecap="round"/>
<rect x="1074.2" y="3703.8" width="16.4" height="16.4" rx="1" fill="#000"/>
<text x="46.5" y="3766.4">Yes</text>
<text x="482.3" y="3766.4" text-anchor="middle">73 (48.67)</text>
<text x="1491.9" y="3766.4" text-anchor="middle">1.57 (0.84, 2.91)</text>
<line x1="986.0" y1="3758.5" x2="1138.7" y2="3758.5" stroke-width="3.4"/>
<line x1="986.0" y1="3753.9" x2="986.0" y2="3763.1" stroke-width="3.4" stroke-linecap="round"/>
<line x1="1138.7" y1="3753.9" x2="1138.7" y2="3763.1" stroke-width="3.4" stroke-linecap="round"/>
<rect x="1053.3" y="3749.0" width="19.0" height="19.0" rx="1" fill="#000"/>
<text x="22.5" y="3812.9" font-weight="bold">Parenchymal atrophy n (%)</text>
<text x="1727.0" y="3812.9" text-anchor="middle">0.94</text>
<text x="46.5" y="3859.4">No</text>
<text x="482.3" y="3859.4" text-anchor="middle">59 (39.33)</text>
<text x="1491.9" y="3859.4" text-anchor="middle">1.54 (0.72, 3.27)</text>
<line x1="967.0" y1="3851.5" x2="1153.0" y2="3851.5" stroke-width="3.4"/>
<line x1="967.0" y1="3846.9" x2="967.0" y2="3856.1" stroke-width="3.4" stroke-linecap="round"/>
<line x1="1153.0" y1="3846.9" x2="1153.0" y2="3856.1" stroke-width="3.4" stroke-linecap="round"/>
<rect x="1051.6" y="3842.7" width="17.7" height="17.7" rx="1" fill="#000"/>
<text x="46.5" y="3905.9">Yes</text>
<text x="482.3" y="3905.9" text-anchor="middle">91 (60.67)</text>
<text x="1491.9" y="3905.9" text-anchor="middle">1.69 (0.93, 3.07)</text>
<line x1="998.5" y1="3898.0" x2="1145.3" y2="3898.0" stroke-width="3.4"/>
<line x1="998.5" y1="3893.4" x2="998.5" y2="3902.6" stroke-width="3.4" stroke-linecap="round"/>
<line x1="1145.3" y1="3893.4" x2="1145.3" y2="3902.6" stroke-width="3.4" stroke-linecap="round"/>
<rect x="1063.0" y="3889.2" width="17.7" height="17.7" rx="1" fill="#000"/>
<text x="22.5" y="3952.4" font-weight="bold">Contour abnormality n (%)</text>
<text x="1727.0" y="3952.4" text-anchor="middle">0.867</text>
<text x="46.5" y="3998.9">No</text>
<text x="474.0" y="3998.9" text-anchor="middle">32 (21.33)</text>
<text x="1491.9" y="3998.9" text-anchor="middle">1.54 (0.47, 5.01)</text>
<line x1="914.6" y1="3991.0" x2="1205.5" y2="3991.0" stroke-width="3.4"/>
<line x1="914.6" y1="3986.4" x2="914.6" y2="3995.6" stroke-width="3.4" stroke-linecap="round"/>
<line x1="1205.5" y1="3986.4" x2="1205.5" y2="3995.6" stroke-width="3.4" stroke-linecap="round"/>
<rect x="1054.3" y="3984.8" width="12.3" height="12.3" rx="1" fill="#000"/>
<text x="46.5" y="4045.4">Yes</text>
<text x="475.2" y="4045.4" text-anchor="middle">118 (78.67)</text>
<text x="1491.9" y="4045.4" text-anchor="middle">1.86 (1.14, 3.05)</text>
<line x1="1023.5" y1="4037.5" x2="1144.5" y2="4037.5" stroke-width="3.4"/>
<line x1="1023.5" y1="4032.9" x2="1023.5" y2="4042.1" stroke-width="3.4" stroke-linecap="round"/>
<line x1="1144.5" y1="4032.9" x2="1144.5" y2="4042.1" stroke-width="3.4" stroke-linecap="round"/>
<rect x="1074.2" y="4028.0" width="19.0" height="19.0" rx="1" fill="#000"/>
<text x="22.5" y="4091.9" font-weight="bold">Cyst n (%)</text>
<rect x="1720.4" y="4082.1" width="11.4" height="2.2" fill="#000"/>
<text x="46.5" y="4138.4">No</text>
<text x="475.2" y="4138.4" text-anchor="middle">139 (92.67)</text>
<text x="1491.9" y="4138.4" text-anchor="middle">1.67 (1.03, 2.68)</text>
<line x1="1011.0" y1="4130.5" x2="1128.6" y2="4130.5" stroke-width="3.4"/>
<line x1="1011.0" y1="4125.9" x2="1011.0" y2="4135.1" stroke-width="3.4" stroke-linecap="round"/>
<line x1="1128.6" y1="4125.9" x2="1128.6" y2="4135.1" stroke-width="3.4" stroke-linecap="round"/>
<rect x="1059.5" y="4119.6" width="21.8" height="21.8" rx="1" fill="#000"/>
<text x="46.5" y="4184.9">Yes</text>
<text x="474.0" y="4184.9" text-anchor="middle">11 (7.33)</text>
<text x="1491.9" y="4184.9" text-anchor="middle">2.67 (0.59, 12.18)</text>
<line x1="942.5" y1="4177.0" x2="1314.7" y2="4177.0" stroke-width="3.4"/>
<line x1="942.5" y1="4172.4" x2="942.5" y2="4181.6" stroke-width="3.4" stroke-linecap="round"/>
<line x1="1314.7" y1="4172.4" x2="1314.7" y2="4181.6" stroke-width="3.4" stroke-linecap="round"/>
<rect x="1123.4" y="4172.2" width="9.5" height="9.5" rx="1" fill="#000"/>
<line x1="1007.4" y1="2991.5" x2="1007.4" y2="4200.3" stroke-width="3.5" stroke-linecap="round"/>
<line x1="666.6" y1="4200.3" x2="1263.0" y2="4200.3" stroke-width="3.5"/>
<line x1="666.6" y1="4200.3" x2="666.6" y2="4206.8" stroke-width="3.5" stroke-linecap="round"/>
<text x="668.6" y="4229.5" text-anchor="middle">0.062</text>
<line x1="751.8" y1="4200.3" x2="751.8" y2="4206.8" stroke-width="3.5" stroke-linecap="round"/>
<text x="753.8" y="4229.5" text-anchor="middle">0.125</text>
<line x1="837.0" y1="4200.3" x2="837.0" y2="4206.8" stroke-width="3.5" stroke-linecap="round"/>
<text x="839.0" y="4229.5" text-anchor="middle">0.250</text>
<line x1="922.2" y1="4200.3" x2="922.2" y2="4206.8" stroke-width="3.5" stroke-linecap="round"/>
<text x="924.2" y="4229.5" text-anchor="middle">0.500</text>
<line x1="1007.4" y1="4200.3" x2="1007.4" y2="4206.8" stroke-width="3.5" stroke-linecap="round"/>
<text x="1005.4" y="4229.5" text-anchor="middle">1.00</text>
<line x1="1092.6" y1="4200.3" x2="1092.6" y2="4206.8" stroke-width="3.5" stroke-linecap="round"/>
<text x="1090.6" y="4229.5" text-anchor="middle">2.00</text>
<line x1="1177.8" y1="4200.3" x2="1177.8" y2="4206.8" stroke-width="3.5" stroke-linecap="round"/>
<text x="1175.8" y="4229.5" text-anchor="middle">4.00</text>
<line x1="1263.0" y1="4200.3" x2="1263.0" y2="4206.8" stroke-width="3.5" stroke-linecap="round"/>
<text x="1261.0" y="4229.5" text-anchor="middle">8.00</text>
<text x="1752.0" y="4206.0" style="font-size:39px">C</text>
</svg>
</body></html>
